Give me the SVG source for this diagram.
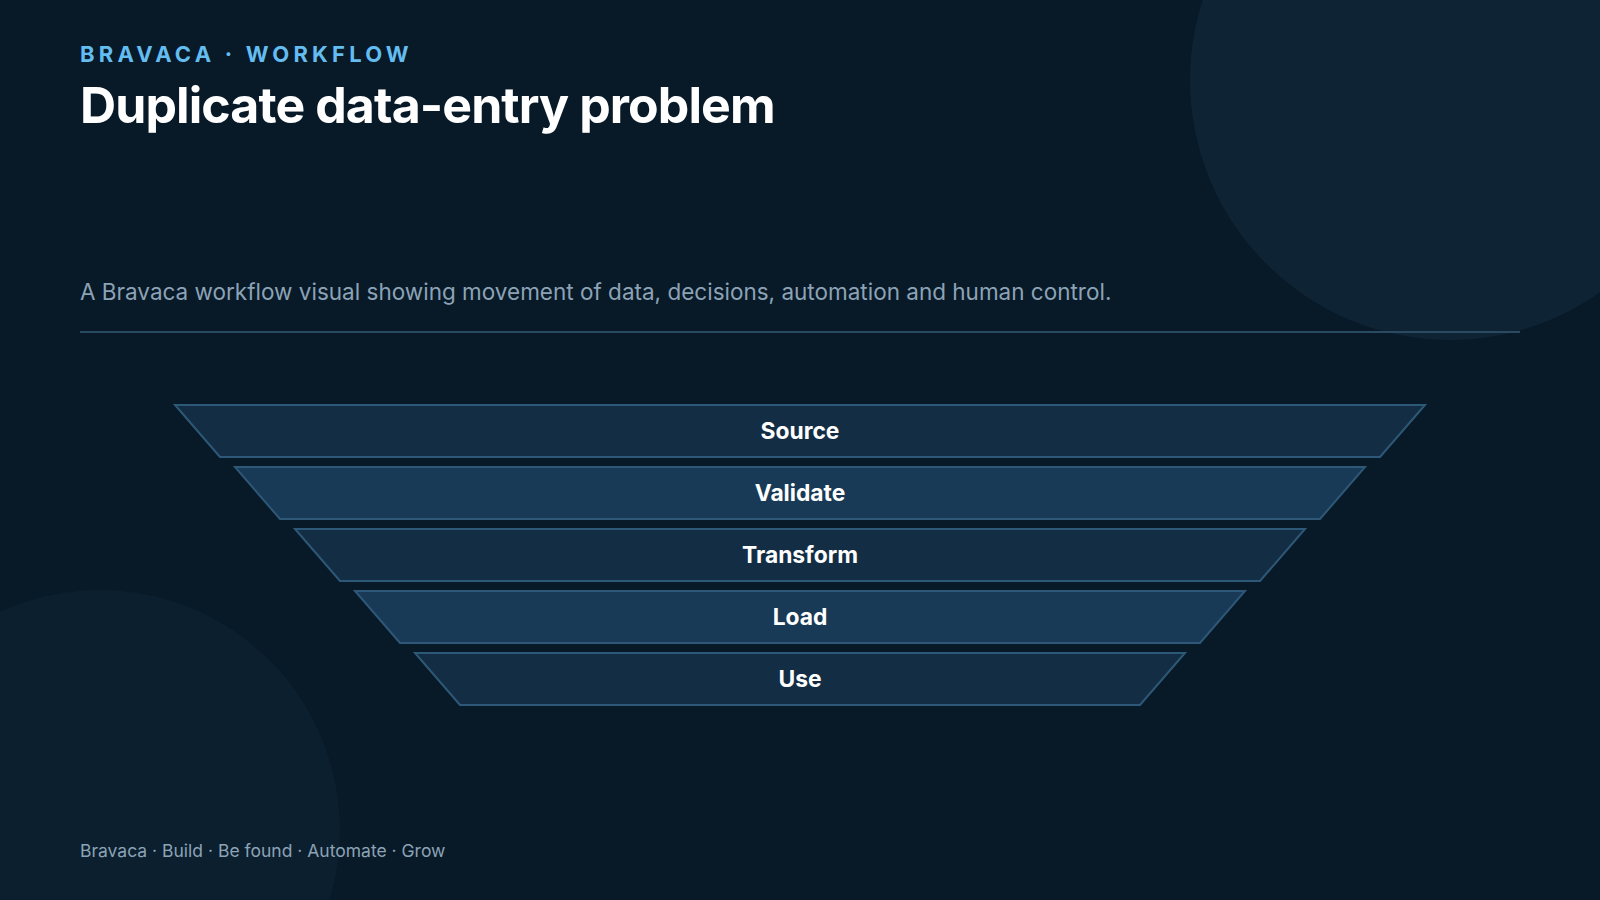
<svg xmlns="http://www.w3.org/2000/svg" width="1600" height="900" viewBox="0 0 1600 900">
  <style>
    .eyebrow { font-family: Inter, "Liberation Sans", sans-serif; font-size: 22px; font-weight: 700; letter-spacing: 4.2px; fill: #63bdf0; }
    .title { font-family: Inter, "Liberation Sans", sans-serif; font-size: 50px; font-weight: 700; letter-spacing: -0.9px; fill: #ffffff; }
    .sub { font-family: Inter, "Liberation Sans", sans-serif; font-size: 22.5px; fill: #8ca3b6; }
    .foot { font-family: Inter, "Liberation Sans", sans-serif; font-size: 17.5px; fill: #8ca3b6; }
    .stage { stroke: #2e5877; stroke-width: 2; }
    .odd { fill: #132e44; }
    .even { fill: #183a56; }
    .label { font-family: Inter, "Liberation Sans", sans-serif; font-size: 22.8px; font-weight: 700; fill: #ffffff; text-anchor: middle; }
  </style>
  <rect width="1600" height="900" fill="#081928"/>
  <circle cx="1450" cy="80" r="260" fill="#0e2333"/>
  <circle cx="100" cy="830" r="240" fill="#0b1f2e"/>

  <text class="eyebrow" x="80" y="62">BRAVACA · WORKFLOW</text>
  <text class="title" x="80" y="123">Duplicate data-entry problem</text>
  <text class="sub" x="80" y="300">A Bravaca workflow visual showing movement of data, decisions, automation and human control.</text>
  <line x1="80" y1="332" x2="1520" y2="332" stroke="#2a4a61" stroke-width="2"/>

  <g id="connectors"></g>

  <g id="node-source">
    <polygon class="stage odd" points="175,405 1425,405 1380,457 220,457"/>
    <text class="label" x="800" y="439">Source</text>
  </g>
  <g id="node-validate">
    <polygon class="stage even" points="235,467 1365,467 1320,519 280,519"/>
    <text class="label" x="800" y="501">Validate</text>
  </g>
  <g id="node-transform">
    <polygon class="stage odd" points="295,529 1305,529 1260,581 340,581"/>
    <text class="label" x="800" y="563">Transform</text>
  </g>
  <g id="node-load">
    <polygon class="stage even" points="355,591 1245,591 1200,643 400,643"/>
    <text class="label" x="800" y="625">Load</text>
  </g>
  <g id="node-use">
    <polygon class="stage odd" points="415,653 1185,653 1140,705 460,705"/>
    <text class="label" x="800" y="687">Use</text>
  </g>

  <text class="foot" x="80" y="857">Bravaca · Build · Be found · Automate · Grow</text>
</svg>
